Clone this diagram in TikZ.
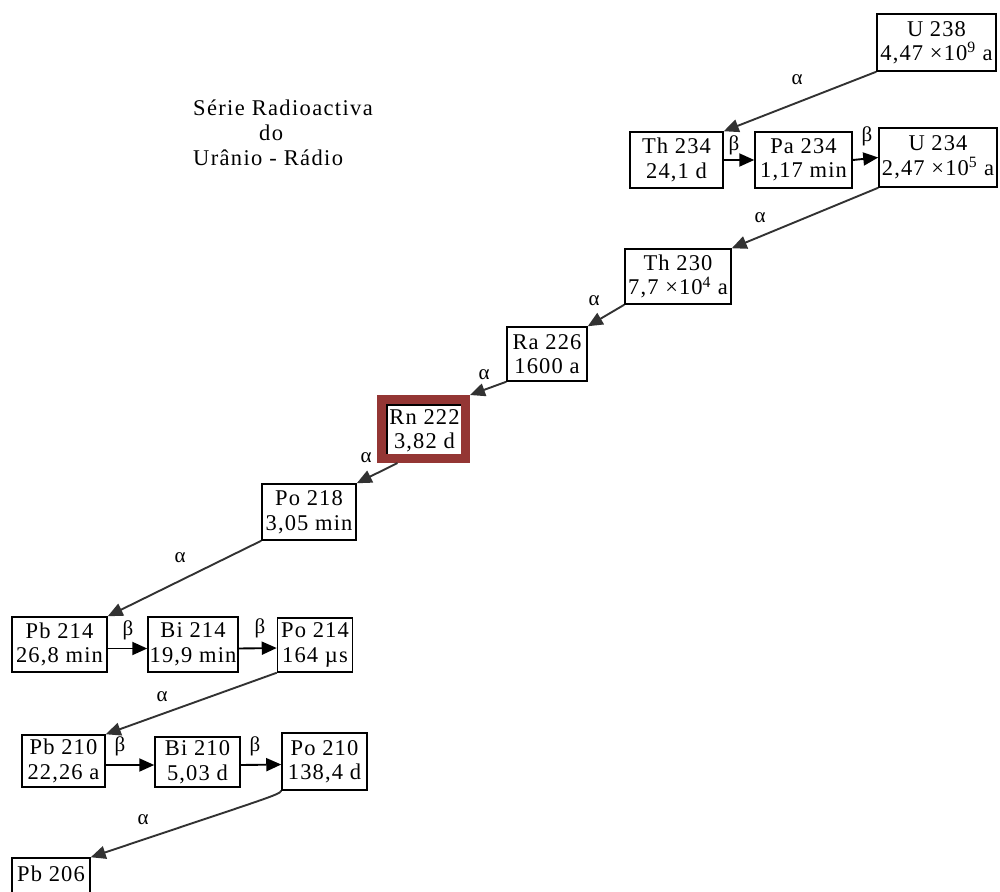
\documentclass[tikz,border=0pt]{standalone}
\usepackage{fontspec}
\setmainfont{Liberation Serif}
\usetikzlibrary{arrows.meta,calc}
\definecolor{rnred}{RGB}{148,54,52}
\definecolor{arrowgray}{RGB}{50,50,50}
\tikzset{
  box/.style={draw=black, line width=1.5pt, inner sep=0pt, align=center,
    font=\fontsize{22.5}{24.5}\selectfont\addfontfeature{LetterSpace=5}},
  decay/.style={draw=arrowgray, line width=1.9pt, -{Triangle[length=15pt,width=13pt]}},
  beta/.style={draw=black, line width=1.9pt, -{Triangle[length=15pt,width=13pt]}},
  lbl/.style={inner sep=0pt, font=\fontsize{21}{22}\selectfont},
  titletext/.style={inner sep=0pt, align=left, anchor=north west,
    font=\fontsize{22.5}{25}\selectfont\addfontfeature{LetterSpace=6}},
  rnframe/.style={draw=rnred, line width=9pt, inner sep=0pt}
}
\begin{document}
\begin{tikzpicture}[x=1pt,y=-1pt]
\useasboundingbox (0,0) rectangle (1000,891);

% title
\node[titletext] (title) at (193,100) {Série Radioactiva\\\hspace*{66pt}do\\Urânio - Rádio};

% boxes
\node[box, minimum width=119, minimum height=57] (U238) at (936.5,42.5) {U 238\\4,47 ×10\textsuperscript{9} a};
\node[box, minimum width=93, minimum height=56] (Th234) at (676.5,160) {Th 234\\24,1 d};
\node[box, minimum width=97, minimum height=56] (Pa234) at (803.5,160) {Pa 234\\1,17 min};
\node[box, minimum width=118, minimum height=59] (U234) at (938,157.5) {U 234\\2,47 ×10\textsuperscript{5} a};
\node[box, minimum width=106, minimum height=55] (Th230) at (678,276.5) {Th 230\\7,7 ×10\textsuperscript{4} a};
\node[box, minimum width=80, minimum height=54] (Ra226) at (547,354) {Ra 226\\1600 a};
\node[box, minimum width=75, minimum height=52] (Rn222) at (424.5,431) {Rn 222\\3,82 d};
\node[rnframe, minimum width=84, minimum height=59] (Rnframe) at (423.5,429) {};
\node[box, minimum width=94, minimum height=56] (Po218) at (309,512) {Po 218\\3,05 min};
\node[box, minimum width=95, minimum height=55] (Pb214) at (59.5,644.5) {Pb 214\\26,8 min};
\node[box, minimum width=90, minimum height=55] (Bi214) at (193,644.5) {Bi 214\\19,9 min};
\node[box, minimum width=75, minimum height=54] (Po214) at (315,645) {Po 214\\164 µs};
\node[box, minimum width=83, minimum height=52] (Pb210) at (63.5,761) {Pb 210\\22,26 a};
\node[box, minimum width=85, minimum height=50] (Bi210) at (197.5,762) {Bi 210\\5,03 d};
\node[box, minimum width=85, minimum height=57] (Po210) at (324.5,761.5) {Po 210\\138,4 d};
\node[box, minimum width=78, minimum height=56] (Pb206) at (51,886) {Pb 206\\\phantom{0}};

% alpha decays
\draw[decay] (U238.south west) -- (Th234.north east);
\draw[decay] (U234.south west) -- (Th230.north east);
\draw[decay] (Th230.south west) -- (Ra226.north east);
\draw[decay] (Ra226.south west) -- (Rnframe.north east);
\draw[decay] ($(Rnframe.south west)!0.22!(Rnframe.south east)$) -- (Po218.north east);
\draw[decay] (Po218.south west) -- (Pb214.north east);
\draw[decay] (Po214.south west) -- (Pb210.north east);
\draw[decay] (Po210.south west) .. controls (279,795) and (270,797) .. (Pb206.north east);

% beta decays
\draw[beta] (Th234.east) -- (Pa234.west);
\draw[beta] (Pa234.east) -- (U234.west);
\draw[beta] ($(Pb214.east)+(0,4)$) -- ($(Bi214.west)+(0,4)$);
\draw[beta] ($(Bi214.east)+(0,4)$) -- ($(Po214.west)+(0,3)$);
\draw[beta] ($(Pb210.east)+(0,4)$) -- ($(Bi210.west)+(0,3)$);
\draw[beta] ($(Bi210.east)+(0,3)$) -- ($(Po210.west)+(0,3)$);

% labels
\node[lbl] (a1) at (797,80) {α};
\node[lbl] (a2) at (760,218) {α};
\node[lbl] (a3) at (594,301) {α};
\node[lbl] (a4) at (484,375) {α};
\node[lbl] (a5) at (366,458) {α};
\node[lbl] (a6) at (180,558) {α};
\node[lbl] (a7) at (162,697) {α};
\node[lbl] (a8) at (143,820) {α};
\node[lbl] (b1) at (734,145) {β};
\node[lbl] (b2) at (867,136) {β};
\node[lbl] (b3) at (128,630) {β};
\node[lbl] (b4) at (260,628) {β};
\node[lbl] (b5) at (120,746) {β};
\node[lbl] (b6) at (255,746) {β};
\end{tikzpicture}
\end{document}
